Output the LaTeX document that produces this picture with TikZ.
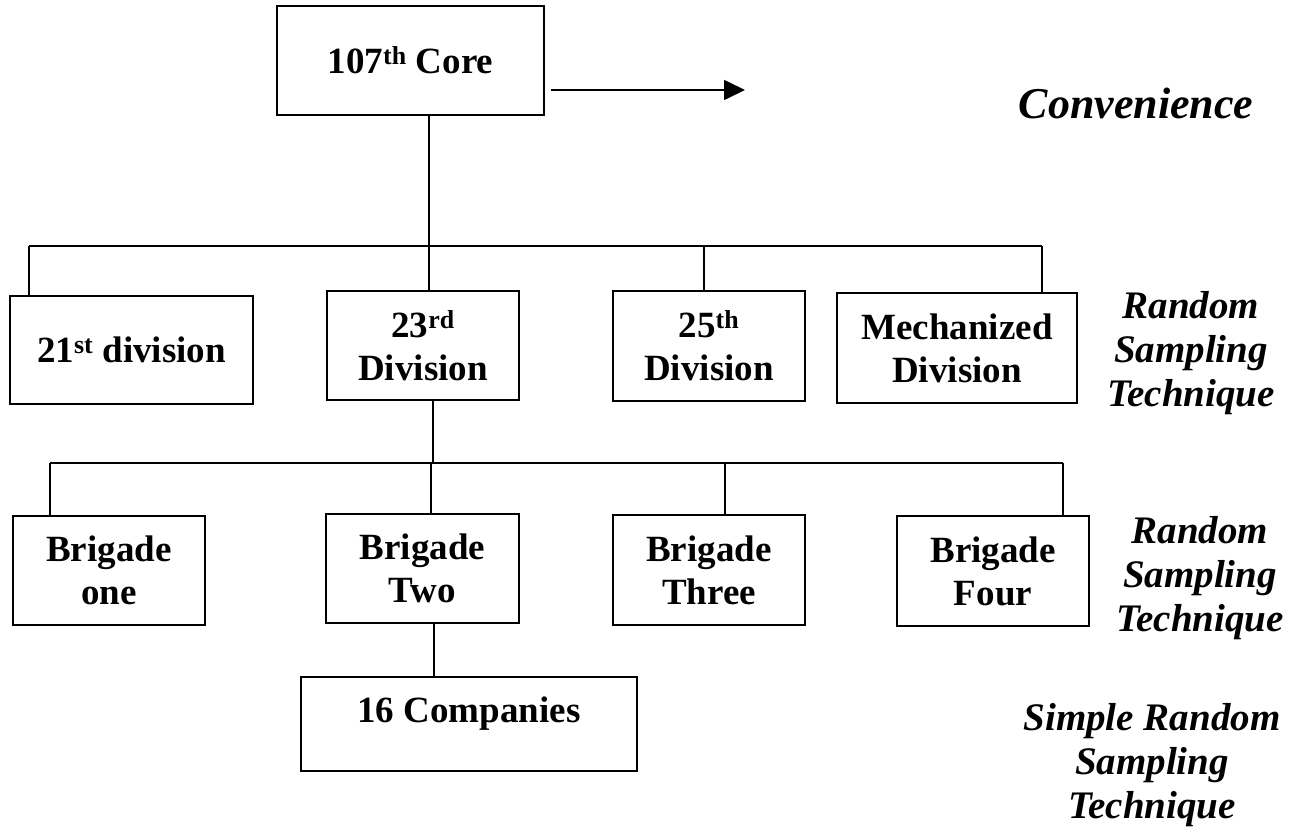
\documentclass[tikz,border=0pt]{standalone}
\usepackage{fontspec}
\setmainfont{Liberation Serif}
\usetikzlibrary{arrows.meta}
\begin{document}
\begin{tikzpicture}[x=1pt,y=-1pt,
  box/.style={draw, line width=2pt, inner sep=0pt, align=center, font=\bfseries\fontsize{37}{43}\selectfont},
  lab/.style={inner sep=0pt, align=center, font=\bfseries\itshape\fontsize{39}{44}\selectfont},
  conn/.style={line width=1.6pt},
  arr/.style={line width=1.6pt, -{Triangle[length=21pt,width=20pt]}}]
\useasboundingbox (0,0) rectangle (1306,832);
% boxes
\node[box, minimum width=267pt, minimum height=109pt] (core) at (410.5,60.5) {107\textsuperscript{th} Core};
\node[box, minimum width=243pt, minimum height=108pt] (d21) at (131.5,350) {21\textsuperscript{st} division};
\node[box, minimum width=192pt, minimum height=109pt] (d23) at (423,345.5) {23\textsuperscript{rd}\\Division};
\node[box, minimum width=192pt, minimum height=110pt] (d25) at (709,346) {25\textsuperscript{th}\\Division};
\node[box, minimum width=240pt, minimum height=110pt] (mech) at (957,348) {Mechanized\\Division};
\node[box, minimum width=192pt, minimum height=109pt] (b1) at (109,570.5) {Brigade\\one};
\node[box, minimum width=193pt, minimum height=109pt] (b2) at (422.5,568.5) {Brigade\\Two};
\node[box, minimum width=192pt, minimum height=110pt] (b3) at (709,570) {Brigade\\Three};
\node[box, minimum width=192pt, minimum height=110pt] (b4) at (993,571) {Brigade\\Four};
\node[box, minimum width=336pt, minimum height=94pt, text height=26pt, text depth=30pt] (comp) at (469,724) {16 Companies};
% labels
\node[lab, font=\bfseries\itshape\fontsize{44}{48}\selectfont] (conv) at (1136,103) {Convenience};
\node[lab] (rs1) at (1191,353) {Random\\Sampling\\Technique};
\node[lab] (rs2) at (1200,578) {Random\\Sampling\\Technique};
\node[lab] (srs) at (1152,765) {Simple Random\\Sampling\\Technique};
% arrow
\coordinate (as) at (551,90);
\coordinate (ae) at (745,90);
\draw[arr] (as) -- (ae);
% first bus
\coordinate (top1) at (429,246);
\coordinate (L1) at (29,246);
\coordinate (R1) at (1042,246);
\coordinate (m25) at (704,246);
\draw[conn] (core.south -| top1) -- (top1);
\draw[conn] (L1) -- (R1);
\draw[conn] (L1) -- (L1 |- d21.north);
\draw[conn] (top1) -- (top1 |- d23.north);
\draw[conn] (m25) -- (m25 |- d25.north);
\draw[conn] (R1) -- (R1 |- mech.north);
% second bus
\coordinate (top2) at (433,463);
\coordinate (L2) at (50,463);
\coordinate (R2) at (1063,463);
\coordinate (m2) at (431,463);
\coordinate (m3) at (725,463);
\draw[conn] (d23.south -| top2) -- (top2);
\draw[conn] (L2) -- (R2);
\draw[conn] (L2) -- (L2 |- b1.north);
\draw[conn] (m2) -- (m2 |- b2.north);
\draw[conn] (m3) -- (m3 |- b3.north);
\draw[conn] (R2) -- (R2 |- b4.north);
% to companies
\coordinate (x3) at (434,0);
\draw[conn] (b2.south -| x3) -- (comp.north -| x3);
\end{tikzpicture}
\end{document}
